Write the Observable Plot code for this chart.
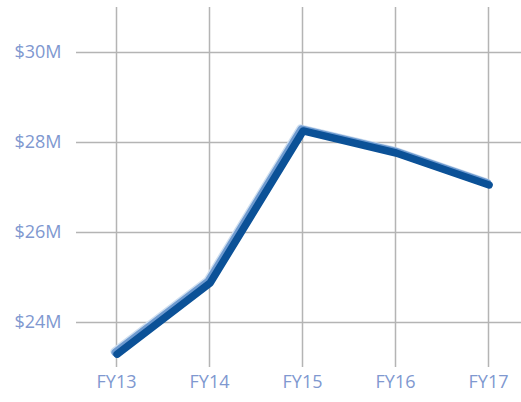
<!DOCTYPE html>
<html><head><meta charset="utf-8">
<script src="https://cdn.jsdelivr.net/npm/d3@7"></script>
<script src="https://cdn.jsdelivr.net/npm/@observablehq/plot@0.6"></script>
<style>body{margin:0;background:#fff}</style>
</head><body><div id="chart"></div>
<script>
const years = ["FY13","FY14","FY15","FY16","FY17"];
const values = [23.31, 24.89, 28.27, 27.78, 27.07];
const yTicks = [24, 26, 28, 30];
const data = years.map((y,i)=>({year:y, value:values[i]}));

const chart = Plot.plot({
  width: 521, height: 402,
  marginLeft: 76, marginRight: 0, marginTop: 7, marginBottom: 35,
  style: {fontFamily: "'Open Sans', sans-serif", fontSize: "18px", color: "#8098d0", background: "#fff"},
  x: {type: "point", domain: years, range: [115, 489], padding: 0, label: null},
  y: {domain: [23, 31], label: null},
  marks: [
    Plot.gridY(yTicks, {stroke: "#b4b4b4", strokeOpacity: 1, strokeWidth: 1.5}),
    Plot.gridX(years, {stroke: "#b4b4b4", strokeOpacity: 1, strokeWidth: 1.5}),
    Plot.axisY(yTicks, {tickSize: 0, tickPadding: 15, tickFormat: d => `$${d}M`, fill: "#8098d0", fontSize: 18}),
    Plot.axisX(years, {tickSize: 0, tickPadding: 8, fill: "#8098d0", fontSize: 18}),
    Plot.line(data, {x: "year", y: "value", stroke: "#cfdff0", strokeWidth: 8, strokeLinecap: "round", strokeLinejoin: "round", dx: -2, dy: -2}),
    Plot.line(data, {x: "year", y: "value", stroke: "#6f9bd0", strokeWidth: 8, strokeLinecap: "round", strokeLinejoin: "round", dx: -1, dy: -1}),
    Plot.line(data, {x: "year", y: "value", stroke: "#0b5197", strokeWidth: 7.5, strokeLinecap: "round", strokeLinejoin: "round", dx: 0.6, dy: 0.6})
  ]
});
document.getElementById("chart").append(chart);
</script></body></html>
